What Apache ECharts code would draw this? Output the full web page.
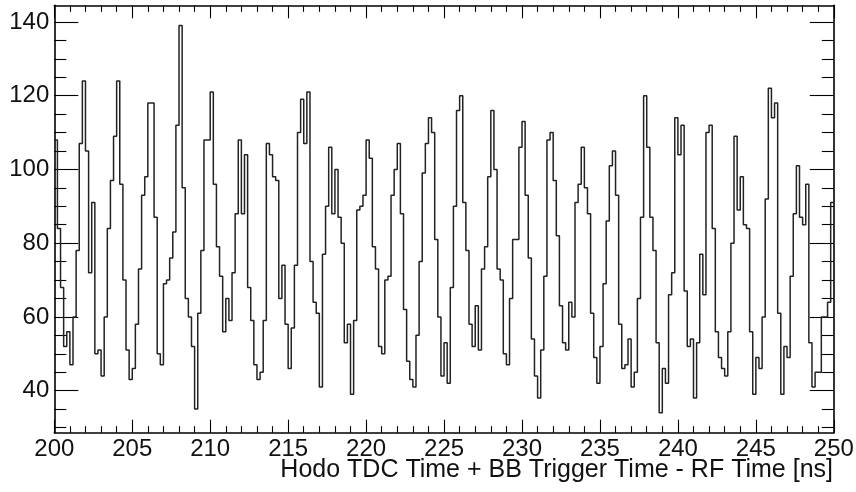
<!DOCTYPE html>
<html>
<head>
<meta charset="utf-8">
<script src="https://cdn.jsdelivr.net/npm/echarts@6/dist/echarts.min.js"></script>
<style>
  html, body { margin: 0; padding: 0; background: #fff; }
  #chart { width: 856px; height: 492px; }
</style>
</head>
<body>
<div id="chart"></div>
<script>
// Histogram definition (ROOT-style TH1): 250 bins of 0.2 ns from 200 to 250 ns
const binLow = 200;
const binHigh = 250;
const binWidth = 0.2;
const counts = [
  108, 84, 68, 52, 56, 47, 60, 78, 107, 124,
  105, 72, 91, 50, 51, 44, 60, 84, 97, 109,
  124, 96, 70, 51, 43, 46, 58, 73, 93, 98,
  118, 118, 87, 50, 47, 69, 70, 76, 83, 112,
  139, 95, 65, 60, 52, 35, 61, 78, 108, 108,
  121, 96, 79, 71, 56, 65, 59, 72, 88, 108,
  88, 104, 68, 59, 47, 43, 45, 59, 107, 104,
  98, 97, 65, 74, 58, 46, 57, 74, 110, 119,
  107, 121, 75, 64, 61, 41, 77, 90, 106, 88,
  100, 87, 80, 53, 58, 39, 59, 89, 90, 93,
  108, 103, 79, 73, 52, 50, 70, 71, 93, 100,
  107, 88, 62, 48, 43, 41, 55, 75, 99, 107,
  114, 110, 81, 60, 44, 53, 42, 68, 90, 116,
  120, 91, 78, 58, 52, 63, 51, 73, 79, 98,
  116, 100, 73, 70, 50, 47, 65, 81, 81, 106,
  113, 93, 76, 54, 44, 38, 51, 71, 108, 110,
  97, 82, 63, 53, 51, 64, 60, 91, 96, 106,
  95, 88, 61, 49, 42, 52, 69, 86, 101, 105,
  93, 58, 46, 47, 54, 41, 45, 65, 87, 120,
  106, 87, 78, 53, 34, 46, 42, 66, 72, 114,
  104, 112, 67, 52, 54, 38, 53, 77, 66, 110,
  112, 84, 56, 49, 46, 44, 56, 80, 109, 89,
  98, 85, 84, 56, 39, 49, 46, 60, 92, 122,
  114, 118, 61, 39, 52, 49, 71, 88, 101, 87,
  85, 96, 53, 41, 45, 45, 60, 60, 64, 91
];
const xTickLabels = [200, 205, 210, 215, 220, 225, 230, 235, 240, 245, 250];
const yMajorTicks = [40, 60, 80, 100, 120, 140];
const yMinorTicks = [30, 35, 45, 50, 55, 65, 70, 75, 85, 90, 95, 105, 110, 115, 125, 130, 135];
const yMin = 28.6;
const yMax = 144.5;
const xTitle = 'Hodo TDC Time + BB Trigger Time - RF Time [ns]';

// Step outline: each bin's left edge with its content, plus the closing right edge
const stepData = counts.map((c, i) => [binLow + i * binWidth, c]);
stepData.push([binHigh, counts[counts.length - 1]]);

const FONT = '"Liberation Sans", Arial, Helvetica, sans-serif';
const black = '#000';
const textColor = '#111';

function xAxisDef(pos, showLabels) {
  return {
    type: 'value', position: pos, min: binLow, max: binHigh, interval: 5,
    axisLine: { show: true, onZero: false, lineStyle: { color: black, width: 1.6 } },
    axisTick: { show: true, inside: true, length: 13, lineStyle: { color: black, width: 1.1 } },
    minorTick: { show: true, splitNumber: 5, length: 6.5, lineStyle: { color: black, width: 1.1 } },
    axisLabel: {
      show: showLabels, fontSize: 24, fontFamily: FONT, color: textColor, margin: 5,
      customValues: xTickLabels
    },
    splitLine: { show: false },
    minorSplitLine: { show: false }
  };
}
function yAxisDef(pos, ticks, len, showLabels, showLine) {
  return {
    type: 'value', position: pos, min: yMin, max: yMax,
    axisLine: { show: showLine, onZero: false, lineStyle: { color: black, width: 1.6 } },
    axisTick: { show: true, inside: true, length: len, customValues: ticks, lineStyle: { color: black, width: 1.1 } },
    axisLabel: {
      show: showLabels, fontSize: 24, fontFamily: FONT, color: textColor, margin: 5,
      customValues: ticks
    },
    splitLine: { show: false }
  };
}

const chart = echarts.init(document.getElementById('chart'), null, { renderer: 'canvas' });
chart.setOption({
  animation: false,
  backgroundColor: '#fff',
  grid: { left: 54.3, right: 22.2, top: 5.3, bottom: 59.3, containLabel: false, outerBoundsMode: 'none' },
  title: {
    text: xTitle, right: 23, top: 458, padding: 0,
    textStyle: { fontSize: 25, fontWeight: 'normal', fontFamily: FONT, color: textColor }
  },
  xAxis: [xAxisDef('bottom', true), xAxisDef('top', false)],
  yAxis: [
    yAxisDef('left', yMajorTicks, 24, true, true),
    yAxisDef('left', yMinorTicks, 12, false, false),
    yAxisDef('right', yMajorTicks, 24, false, true),
    yAxisDef('right', yMinorTicks, 12, false, false)
  ],
  series: [{
    type: 'line', xAxisIndex: 0, yAxisIndex: 0,
    step: 'end', data: stepData,
    showSymbol: false, symbol: 'none',
    lineStyle: { color: '#222', width: 1.5 },
    clip: true
  }]
});
</script>
</body>
</html>
